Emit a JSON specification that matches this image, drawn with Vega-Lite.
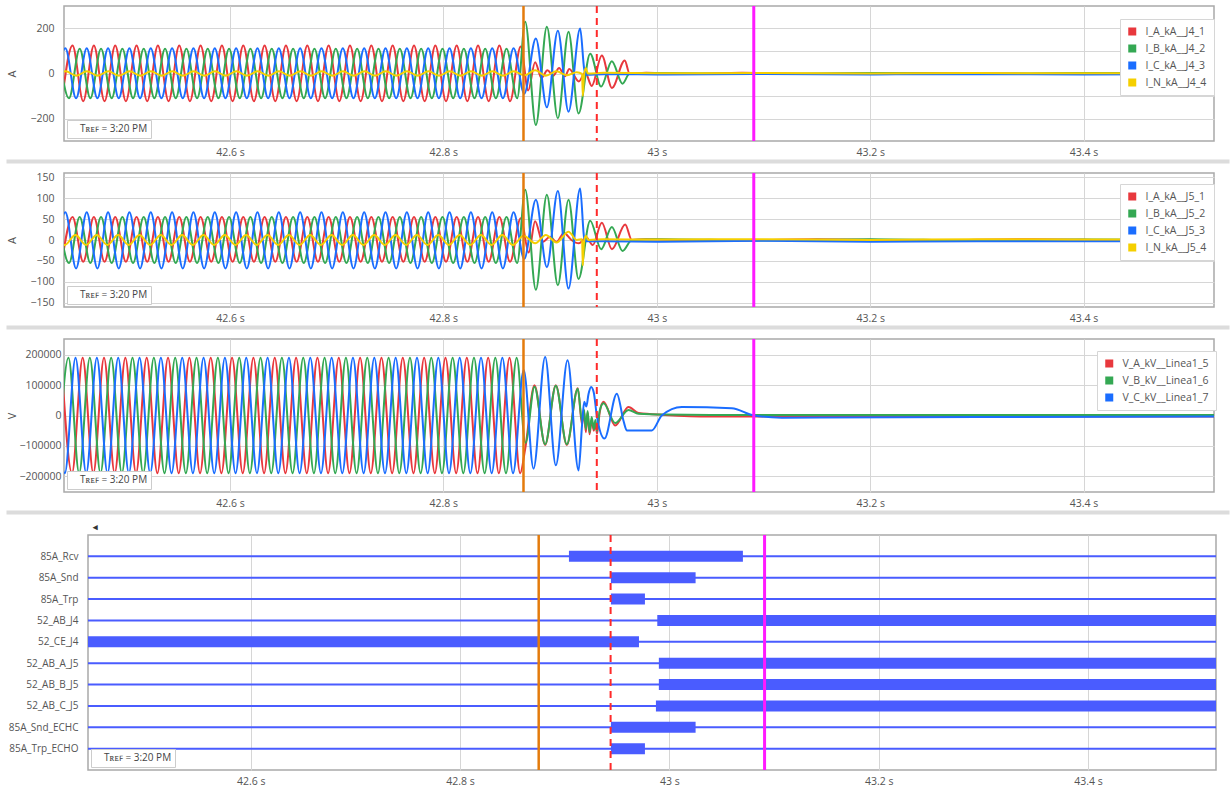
{
"$schema":"https://vega.github.io/schema/vega-lite/v6.json",
"background":"white",
"padding":{"left":5,"top":3,"right":5,"bottom":2},
"config":{
 "font":"Open Sans",
 "view":{"stroke":"#a9a9a9","strokeWidth":1.5},
 "axis":{"labelFont":"Open Sans","labelFontSize":10.5,"labelColor":"#555555","titleFont":"Open Sans","titleFontSize":11,"titleFontWeight":"normal","titleColor":"#555555","gridColor":"#d6d6d6","gridWidth":1,"domain":false,"ticks":false},
 "legend":{"labelFont":"Open Sans"},
 "concat":{"spacing":8}
},
"resolve":{"scale":{"color":"independent","shape":"independent"},"legend":{"color":"independent","shape":"independent"}},
"datasets":{
"cur":[{"c":"fault","t":42.8751},{"c":"trip","t":42.9438},{"c":"open","t":43.0909}],
"tref":[{"r":"Tʀᴇꜰ = 3:20 PM"}],
"dig":[
{"s":"85A_Rcv","a":42.9040,"b":43.0702},
{"s":"85A_Snd","a":42.9441,"b":43.0250},
{"s":"85A_Trp","a":42.9441,"b":42.9766},
{"s":"52_AB_J4","a":42.9884,"b":43.53},
{"s":"52_CE_J4","a":42.43,"b":42.9709},
{"s":"52_AB_A_J5","a":42.9899,"b":43.53},
{"s":"52_AB_B_J5","a":42.9899,"b":43.53},
{"s":"52_AB_C_J5","a":42.9871,"b":43.53},
{"s":"85A_Snd_ECHC","a":42.9441,"b":43.0250},
{"s":"85A_Trp_ECHO","a":42.9441,"b":42.9766}
],
"i4":[
{"s":"I_A_kA__J4_1","t":42.4425,"v":-123},{"s":"I_A_kA__J4_1","t":42.4525,"v":125},{"s":"I_A_kA__J4_1","t":42.4625,"v":-123},{"s":"I_A_kA__J4_1","t":42.4725,"v":125},{"s":"I_A_kA__J4_1","t":42.4825,"v":-123},{"s":"I_A_kA__J4_1","t":42.4925,"v":125},{"s":"I_A_kA__J4_1","t":42.5025,"v":-123},{"s":"I_A_kA__J4_1","t":42.5125,"v":125},{"s":"I_A_kA__J4_1","t":42.5225,"v":-123},{"s":"I_A_kA__J4_1","t":42.5325,"v":125},{"s":"I_A_kA__J4_1","t":42.5425,"v":-123},{"s":"I_A_kA__J4_1","t":42.5525,"v":125},{"s":"I_A_kA__J4_1","t":42.5625,"v":-123},{"s":"I_A_kA__J4_1","t":42.5725,"v":125},{"s":"I_A_kA__J4_1","t":42.5825,"v":-123},{"s":"I_A_kA__J4_1","t":42.5925,"v":125},{"s":"I_A_kA__J4_1","t":42.6025,"v":-123},{"s":"I_A_kA__J4_1","t":42.6125,"v":125},{"s":"I_A_kA__J4_1","t":42.6225,"v":-123},{"s":"I_A_kA__J4_1","t":42.6325,"v":125},{"s":"I_A_kA__J4_1","t":42.6425,"v":-123},{"s":"I_A_kA__J4_1","t":42.6525,"v":125},{"s":"I_A_kA__J4_1","t":42.6625,"v":-123},{"s":"I_A_kA__J4_1","t":42.6725,"v":125},{"s":"I_A_kA__J4_1","t":42.6825,"v":-123},{"s":"I_A_kA__J4_1","t":42.6925,"v":125},{"s":"I_A_kA__J4_1","t":42.7025,"v":-123},{"s":"I_A_kA__J4_1","t":42.7125,"v":125},{"s":"I_A_kA__J4_1","t":42.7225,"v":-123},{"s":"I_A_kA__J4_1","t":42.7325,"v":125},{"s":"I_A_kA__J4_1","t":42.7425,"v":-123},{"s":"I_A_kA__J4_1","t":42.7525,"v":125},{"s":"I_A_kA__J4_1","t":42.7625,"v":-123},{"s":"I_A_kA__J4_1","t":42.7725,"v":125},{"s":"I_A_kA__J4_1","t":42.7825,"v":-123},{"s":"I_A_kA__J4_1","t":42.7925,"v":125},{"s":"I_A_kA__J4_1","t":42.8025,"v":-123},{"s":"I_A_kA__J4_1","t":42.8125,"v":125},{"s":"I_A_kA__J4_1","t":42.8225,"v":-123},{"s":"I_A_kA__J4_1","t":42.8325,"v":125},{"s":"I_A_kA__J4_1","t":42.8425,"v":-123},{"s":"I_A_kA__J4_1","t":42.8525,"v":125},{"s":"I_A_kA__J4_1","t":42.8625,"v":-123},{"s":"I_A_kA__J4_1","t":42.8725,"v":120},
{"s":"I_A_kA__J4_1","t":42.8795,"v":-75},{"s":"I_A_kA__J4_1","t":42.8860,"v":50},{"s":"I_A_kA__J4_1","t":42.8920,"v":-20},{"s":"I_A_kA__J4_1","t":42.8975,"v":15},{"s":"I_A_kA__J4_1","t":42.9030,"v":-10},{"s":"I_A_kA__J4_1","t":42.9085,"v":25},{"s":"I_A_kA__J4_1","t":42.9140,"v":-12},{"s":"I_A_kA__J4_1","t":42.9180,"v":20},{"s":"I_A_kA__J4_1","t":42.9270,"v":-35},{"s":"I_A_kA__J4_1","t":42.9330,"v":5},{"s":"I_A_kA__J4_1","t":42.9390,"v":-55},{"s":"I_A_kA__J4_1","t":42.9485,"v":80},{"s":"I_A_kA__J4_1","t":42.9580,"v":-64},{"s":"I_A_kA__J4_1","t":42.9700,"v":58},{"s":"I_A_kA__J4_1","t":42.9745,"v":0},{"s":"I_A_kA__J4_1","t":42.9900,"v":3},{"s":"I_A_kA__J4_1","t":43.0300,"v":-2},{"s":"I_A_kA__J4_1","t":43.0800,"v":3},{"s":"I_A_kA__J4_1","t":43.1500,"v":-2},{"s":"I_A_kA__J4_1","t":43.2500,"v":2},{"s":"I_A_kA__J4_1","t":43.3500,"v":-2},{"s":"I_A_kA__J4_1","t":43.4500,"v":2},{"s":"I_A_kA__J4_1","t":43.5300,"v":0},
{"s":"I_B_kA__J4_2","t":42.4392,"v":110},{"s":"I_B_kA__J4_2","t":42.4492,"v":-110},{"s":"I_B_kA__J4_2","t":42.4592,"v":110},{"s":"I_B_kA__J4_2","t":42.4692,"v":-110},{"s":"I_B_kA__J4_2","t":42.4792,"v":110},{"s":"I_B_kA__J4_2","t":42.4892,"v":-110},{"s":"I_B_kA__J4_2","t":42.4992,"v":110},{"s":"I_B_kA__J4_2","t":42.5092,"v":-110},{"s":"I_B_kA__J4_2","t":42.5192,"v":110},{"s":"I_B_kA__J4_2","t":42.5292,"v":-110},{"s":"I_B_kA__J4_2","t":42.5392,"v":110},{"s":"I_B_kA__J4_2","t":42.5492,"v":-110},{"s":"I_B_kA__J4_2","t":42.5592,"v":110},{"s":"I_B_kA__J4_2","t":42.5692,"v":-110},{"s":"I_B_kA__J4_2","t":42.5792,"v":110},{"s":"I_B_kA__J4_2","t":42.5892,"v":-110},{"s":"I_B_kA__J4_2","t":42.5992,"v":110},{"s":"I_B_kA__J4_2","t":42.6092,"v":-110},{"s":"I_B_kA__J4_2","t":42.6192,"v":110},{"s":"I_B_kA__J4_2","t":42.6292,"v":-110},{"s":"I_B_kA__J4_2","t":42.6392,"v":110},{"s":"I_B_kA__J4_2","t":42.6492,"v":-110},{"s":"I_B_kA__J4_2","t":42.6592,"v":110},{"s":"I_B_kA__J4_2","t":42.6692,"v":-110},{"s":"I_B_kA__J4_2","t":42.6792,"v":110},{"s":"I_B_kA__J4_2","t":42.6892,"v":-110},{"s":"I_B_kA__J4_2","t":42.6992,"v":110},{"s":"I_B_kA__J4_2","t":42.7092,"v":-110},{"s":"I_B_kA__J4_2","t":42.7192,"v":110},{"s":"I_B_kA__J4_2","t":42.7292,"v":-110},{"s":"I_B_kA__J4_2","t":42.7392,"v":110},{"s":"I_B_kA__J4_2","t":42.7492,"v":-110},{"s":"I_B_kA__J4_2","t":42.7592,"v":110},{"s":"I_B_kA__J4_2","t":42.7692,"v":-110},{"s":"I_B_kA__J4_2","t":42.7792,"v":110},{"s":"I_B_kA__J4_2","t":42.7892,"v":-110},{"s":"I_B_kA__J4_2","t":42.7992,"v":110},{"s":"I_B_kA__J4_2","t":42.8092,"v":-110},{"s":"I_B_kA__J4_2","t":42.8192,"v":110},{"s":"I_B_kA__J4_2","t":42.8292,"v":-110},{"s":"I_B_kA__J4_2","t":42.8392,"v":110},{"s":"I_B_kA__J4_2","t":42.8492,"v":-110},{"s":"I_B_kA__J4_2","t":42.8592,"v":110},{"s":"I_B_kA__J4_2","t":42.8692,"v":-110},
{"s":"I_B_kA__J4_2","t":42.8767,"v":230},{"s":"I_B_kA__J4_2","t":42.8867,"v":-229},{"s":"I_B_kA__J4_2","t":42.8970,"v":208},{"s":"I_B_kA__J4_2","t":42.9073,"v":-199},{"s":"I_B_kA__J4_2","t":42.9173,"v":186},{"s":"I_B_kA__J4_2","t":42.9267,"v":-178},{"s":"I_B_kA__J4_2","t":42.9376,"v":88},{"s":"I_B_kA__J4_2","t":42.9479,"v":-58},{"s":"I_B_kA__J4_2","t":42.9579,"v":55},{"s":"I_B_kA__J4_2","t":42.9679,"v":-45},{"s":"I_B_kA__J4_2","t":42.9745,"v":0},{"s":"I_B_kA__J4_2","t":43.0000,"v":2},{"s":"I_B_kA__J4_2","t":43.1000,"v":-2},{"s":"I_B_kA__J4_2","t":43.2000,"v":2},{"s":"I_B_kA__J4_2","t":43.3000,"v":-1},{"s":"I_B_kA__J4_2","t":43.4000,"v":2},{"s":"I_B_kA__J4_2","t":43.5300,"v":0},
{"s":"I_C_kA__J4_3","t":42.4358,"v":-110},{"s":"I_C_kA__J4_3","t":42.4458,"v":112},{"s":"I_C_kA__J4_3","t":42.4558,"v":-110},{"s":"I_C_kA__J4_3","t":42.4658,"v":112},{"s":"I_C_kA__J4_3","t":42.4758,"v":-110},{"s":"I_C_kA__J4_3","t":42.4858,"v":112},{"s":"I_C_kA__J4_3","t":42.4958,"v":-110},{"s":"I_C_kA__J4_3","t":42.5058,"v":112},{"s":"I_C_kA__J4_3","t":42.5158,"v":-110},{"s":"I_C_kA__J4_3","t":42.5258,"v":112},{"s":"I_C_kA__J4_3","t":42.5358,"v":-110},{"s":"I_C_kA__J4_3","t":42.5458,"v":112},{"s":"I_C_kA__J4_3","t":42.5558,"v":-110},{"s":"I_C_kA__J4_3","t":42.5658,"v":112},{"s":"I_C_kA__J4_3","t":42.5758,"v":-110},{"s":"I_C_kA__J4_3","t":42.5858,"v":112},{"s":"I_C_kA__J4_3","t":42.5958,"v":-110},{"s":"I_C_kA__J4_3","t":42.6058,"v":112},{"s":"I_C_kA__J4_3","t":42.6158,"v":-110},{"s":"I_C_kA__J4_3","t":42.6258,"v":112},{"s":"I_C_kA__J4_3","t":42.6358,"v":-110},{"s":"I_C_kA__J4_3","t":42.6458,"v":112},{"s":"I_C_kA__J4_3","t":42.6558,"v":-110},{"s":"I_C_kA__J4_3","t":42.6658,"v":112},{"s":"I_C_kA__J4_3","t":42.6758,"v":-110},{"s":"I_C_kA__J4_3","t":42.6858,"v":112},{"s":"I_C_kA__J4_3","t":42.6958,"v":-110},{"s":"I_C_kA__J4_3","t":42.7058,"v":112},{"s":"I_C_kA__J4_3","t":42.7158,"v":-110},{"s":"I_C_kA__J4_3","t":42.7258,"v":112},{"s":"I_C_kA__J4_3","t":42.7358,"v":-110},{"s":"I_C_kA__J4_3","t":42.7458,"v":112},{"s":"I_C_kA__J4_3","t":42.7558,"v":-110},{"s":"I_C_kA__J4_3","t":42.7658,"v":112},{"s":"I_C_kA__J4_3","t":42.7758,"v":-110},{"s":"I_C_kA__J4_3","t":42.7858,"v":112},{"s":"I_C_kA__J4_3","t":42.7958,"v":-110},{"s":"I_C_kA__J4_3","t":42.8058,"v":112},{"s":"I_C_kA__J4_3","t":42.8158,"v":-110},{"s":"I_C_kA__J4_3","t":42.8258,"v":112},{"s":"I_C_kA__J4_3","t":42.8358,"v":-110},{"s":"I_C_kA__J4_3","t":42.8458,"v":112},{"s":"I_C_kA__J4_3","t":42.8558,"v":-110},{"s":"I_C_kA__J4_3","t":42.8658,"v":112},
{"s":"I_C_kA__J4_3","t":42.8758,"v":-90},{"s":"I_C_kA__J4_3","t":42.8867,"v":156},{"s":"I_C_kA__J4_3","t":42.8970,"v":-150},{"s":"I_C_kA__J4_3","t":42.9073,"v":190},{"s":"I_C_kA__J4_3","t":42.9173,"v":-170},{"s":"I_C_kA__J4_3","t":42.9282,"v":200},{"s":"I_C_kA__J4_3","t":42.9320,"v":20},{"s":"I_C_kA__J4_3","t":42.9340,"v":-5},{"s":"I_C_kA__J4_3","t":42.9500,"v":-3},{"s":"I_C_kA__J4_3","t":43.0000,"v":-4},{"s":"I_C_kA__J4_3","t":43.1000,"v":-2},{"s":"I_C_kA__J4_3","t":43.2000,"v":-4},{"s":"I_C_kA__J4_3","t":43.3000,"v":-3},{"s":"I_C_kA__J4_3","t":43.4000,"v":-4},{"s":"I_C_kA__J4_3","t":43.5300,"v":-3},
{"s":"I_N_kA__J4_4","t":42.4360,"v":-10},{"s":"I_N_kA__J4_4","t":42.4460,"v":10},{"s":"I_N_kA__J4_4","t":42.4560,"v":-10},{"s":"I_N_kA__J4_4","t":42.4660,"v":10},{"s":"I_N_kA__J4_4","t":42.4760,"v":-10},{"s":"I_N_kA__J4_4","t":42.4860,"v":10},{"s":"I_N_kA__J4_4","t":42.4960,"v":-10},{"s":"I_N_kA__J4_4","t":42.5060,"v":10},{"s":"I_N_kA__J4_4","t":42.5160,"v":-10},{"s":"I_N_kA__J4_4","t":42.5260,"v":10},{"s":"I_N_kA__J4_4","t":42.5360,"v":-10},{"s":"I_N_kA__J4_4","t":42.5460,"v":10},{"s":"I_N_kA__J4_4","t":42.5560,"v":-10},{"s":"I_N_kA__J4_4","t":42.5660,"v":10},{"s":"I_N_kA__J4_4","t":42.5760,"v":-10},{"s":"I_N_kA__J4_4","t":42.5860,"v":10},{"s":"I_N_kA__J4_4","t":42.5960,"v":-10},{"s":"I_N_kA__J4_4","t":42.6060,"v":10},{"s":"I_N_kA__J4_4","t":42.6160,"v":-10},{"s":"I_N_kA__J4_4","t":42.6260,"v":10},{"s":"I_N_kA__J4_4","t":42.6360,"v":-10},{"s":"I_N_kA__J4_4","t":42.6460,"v":10},{"s":"I_N_kA__J4_4","t":42.6560,"v":-10},{"s":"I_N_kA__J4_4","t":42.6660,"v":10},{"s":"I_N_kA__J4_4","t":42.6760,"v":-10},{"s":"I_N_kA__J4_4","t":42.6860,"v":10},{"s":"I_N_kA__J4_4","t":42.6960,"v":-10},{"s":"I_N_kA__J4_4","t":42.7060,"v":10},{"s":"I_N_kA__J4_4","t":42.7160,"v":-10},{"s":"I_N_kA__J4_4","t":42.7260,"v":10},{"s":"I_N_kA__J4_4","t":42.7360,"v":-10},{"s":"I_N_kA__J4_4","t":42.7460,"v":10},{"s":"I_N_kA__J4_4","t":42.7560,"v":-10},{"s":"I_N_kA__J4_4","t":42.7660,"v":10},{"s":"I_N_kA__J4_4","t":42.7760,"v":-10},{"s":"I_N_kA__J4_4","t":42.7860,"v":10},{"s":"I_N_kA__J4_4","t":42.7960,"v":-10},{"s":"I_N_kA__J4_4","t":42.8060,"v":10},{"s":"I_N_kA__J4_4","t":42.8160,"v":-10},{"s":"I_N_kA__J4_4","t":42.8260,"v":10},{"s":"I_N_kA__J4_4","t":42.8360,"v":-10},{"s":"I_N_kA__J4_4","t":42.8460,"v":10},{"s":"I_N_kA__J4_4","t":42.8560,"v":-10},{"s":"I_N_kA__J4_4","t":42.8660,"v":10},
{"s":"I_N_kA__J4_4","t":42.8760,"v":-8},{"s":"I_N_kA__J4_4","t":42.8860,"v":14},{"s":"I_N_kA__J4_4","t":42.8960,"v":-10},{"s":"I_N_kA__J4_4","t":42.9060,"v":10},{"s":"I_N_kA__J4_4","t":42.9160,"v":-8},{"s":"I_N_kA__J4_4","t":42.9250,"v":6},{"s":"I_N_kA__J4_4","t":42.9300,"v":-2},{"s":"I_N_kA__J4_4","t":42.9307,"v":-100},{"s":"I_N_kA__J4_4","t":42.9318,"v":-10},{"s":"I_N_kA__J4_4","t":42.9335,"v":25},{"s":"I_N_kA__J4_4","t":42.9355,"v":0},{"s":"I_N_kA__J4_4","t":42.9500,"v":3},{"s":"I_N_kA__J4_4","t":43.0000,"v":1},{"s":"I_N_kA__J4_4","t":43.1000,"v":2},{"s":"I_N_kA__J4_4","t":43.2000,"v":0},{"s":"I_N_kA__J4_4","t":43.3000,"v":2},{"s":"I_N_kA__J4_4","t":43.4000,"v":1},{"s":"I_N_kA__J4_4","t":43.5300,"v":1}
],
"i5":[
{"s":"I_A_kA__J5_1","t":42.4425,"v":-52},{"s":"I_A_kA__J5_1","t":42.4525,"v":55},{"s":"I_A_kA__J5_1","t":42.4625,"v":-52},{"s":"I_A_kA__J5_1","t":42.4725,"v":55},{"s":"I_A_kA__J5_1","t":42.4825,"v":-52},{"s":"I_A_kA__J5_1","t":42.4925,"v":55},{"s":"I_A_kA__J5_1","t":42.5025,"v":-52},{"s":"I_A_kA__J5_1","t":42.5125,"v":55},{"s":"I_A_kA__J5_1","t":42.5225,"v":-52},{"s":"I_A_kA__J5_1","t":42.5325,"v":55},{"s":"I_A_kA__J5_1","t":42.5425,"v":-52},{"s":"I_A_kA__J5_1","t":42.5525,"v":55},{"s":"I_A_kA__J5_1","t":42.5625,"v":-52},{"s":"I_A_kA__J5_1","t":42.5725,"v":55},{"s":"I_A_kA__J5_1","t":42.5825,"v":-52},{"s":"I_A_kA__J5_1","t":42.5925,"v":55},{"s":"I_A_kA__J5_1","t":42.6025,"v":-52},{"s":"I_A_kA__J5_1","t":42.6125,"v":55},{"s":"I_A_kA__J5_1","t":42.6225,"v":-52},{"s":"I_A_kA__J5_1","t":42.6325,"v":55},{"s":"I_A_kA__J5_1","t":42.6425,"v":-52},{"s":"I_A_kA__J5_1","t":42.6525,"v":55},{"s":"I_A_kA__J5_1","t":42.6625,"v":-52},{"s":"I_A_kA__J5_1","t":42.6725,"v":55},{"s":"I_A_kA__J5_1","t":42.6825,"v":-52},{"s":"I_A_kA__J5_1","t":42.6925,"v":55},{"s":"I_A_kA__J5_1","t":42.7025,"v":-52},{"s":"I_A_kA__J5_1","t":42.7125,"v":55},{"s":"I_A_kA__J5_1","t":42.7225,"v":-52},{"s":"I_A_kA__J5_1","t":42.7325,"v":55},{"s":"I_A_kA__J5_1","t":42.7425,"v":-52},{"s":"I_A_kA__J5_1","t":42.7525,"v":55},{"s":"I_A_kA__J5_1","t":42.7625,"v":-52},{"s":"I_A_kA__J5_1","t":42.7725,"v":55},{"s":"I_A_kA__J5_1","t":42.7825,"v":-52},{"s":"I_A_kA__J5_1","t":42.7925,"v":55},{"s":"I_A_kA__J5_1","t":42.8025,"v":-52},{"s":"I_A_kA__J5_1","t":42.8125,"v":55},{"s":"I_A_kA__J5_1","t":42.8225,"v":-52},{"s":"I_A_kA__J5_1","t":42.8325,"v":55},{"s":"I_A_kA__J5_1","t":42.8425,"v":-52},{"s":"I_A_kA__J5_1","t":42.8525,"v":55},{"s":"I_A_kA__J5_1","t":42.8625,"v":-52},{"s":"I_A_kA__J5_1","t":42.8725,"v":52},
{"s":"I_A_kA__J5_1","t":42.8800,"v":-30},{"s":"I_A_kA__J5_1","t":42.8860,"v":45},{"s":"I_A_kA__J5_1","t":42.8930,"v":-5},{"s":"I_A_kA__J5_1","t":42.9000,"v":8},{"s":"I_A_kA__J5_1","t":42.9060,"v":-5},{"s":"I_A_kA__J5_1","t":42.9130,"v":17},{"s":"I_A_kA__J5_1","t":42.9200,"v":0},{"s":"I_A_kA__J5_1","t":42.9270,"v":-8},{"s":"I_A_kA__J5_1","t":42.9340,"v":6},{"s":"I_A_kA__J5_1","t":42.9400,"v":-12},{"s":"I_A_kA__J5_1","t":42.9485,"v":41},{"s":"I_A_kA__J5_1","t":42.9580,"v":-22},{"s":"I_A_kA__J5_1","t":42.9704,"v":37},{"s":"I_A_kA__J5_1","t":42.9766,"v":0},{"s":"I_A_kA__J5_1","t":42.9900,"v":2},{"s":"I_A_kA__J5_1","t":43.0500,"v":-2},{"s":"I_A_kA__J5_1","t":43.1500,"v":2},{"s":"I_A_kA__J5_1","t":43.2500,"v":-1},{"s":"I_A_kA__J5_1","t":43.3500,"v":2},{"s":"I_A_kA__J5_1","t":43.4500,"v":-1},{"s":"I_A_kA__J5_1","t":43.5300,"v":1},
{"s":"I_B_kA__J5_2","t":42.4392,"v":55},{"s":"I_B_kA__J5_2","t":42.4492,"v":-55},{"s":"I_B_kA__J5_2","t":42.4592,"v":55},{"s":"I_B_kA__J5_2","t":42.4692,"v":-55},{"s":"I_B_kA__J5_2","t":42.4792,"v":55},{"s":"I_B_kA__J5_2","t":42.4892,"v":-55},{"s":"I_B_kA__J5_2","t":42.4992,"v":55},{"s":"I_B_kA__J5_2","t":42.5092,"v":-55},{"s":"I_B_kA__J5_2","t":42.5192,"v":55},{"s":"I_B_kA__J5_2","t":42.5292,"v":-55},{"s":"I_B_kA__J5_2","t":42.5392,"v":55},{"s":"I_B_kA__J5_2","t":42.5492,"v":-55},{"s":"I_B_kA__J5_2","t":42.5592,"v":55},{"s":"I_B_kA__J5_2","t":42.5692,"v":-55},{"s":"I_B_kA__J5_2","t":42.5792,"v":55},{"s":"I_B_kA__J5_2","t":42.5892,"v":-55},{"s":"I_B_kA__J5_2","t":42.5992,"v":55},{"s":"I_B_kA__J5_2","t":42.6092,"v":-55},{"s":"I_B_kA__J5_2","t":42.6192,"v":55},{"s":"I_B_kA__J5_2","t":42.6292,"v":-55},{"s":"I_B_kA__J5_2","t":42.6392,"v":55},{"s":"I_B_kA__J5_2","t":42.6492,"v":-55},{"s":"I_B_kA__J5_2","t":42.6592,"v":55},{"s":"I_B_kA__J5_2","t":42.6692,"v":-55},{"s":"I_B_kA__J5_2","t":42.6792,"v":55},{"s":"I_B_kA__J5_2","t":42.6892,"v":-55},{"s":"I_B_kA__J5_2","t":42.6992,"v":55},{"s":"I_B_kA__J5_2","t":42.7092,"v":-55},{"s":"I_B_kA__J5_2","t":42.7192,"v":55},{"s":"I_B_kA__J5_2","t":42.7292,"v":-55},{"s":"I_B_kA__J5_2","t":42.7392,"v":55},{"s":"I_B_kA__J5_2","t":42.7492,"v":-55},{"s":"I_B_kA__J5_2","t":42.7592,"v":55},{"s":"I_B_kA__J5_2","t":42.7692,"v":-55},{"s":"I_B_kA__J5_2","t":42.7792,"v":55},{"s":"I_B_kA__J5_2","t":42.7892,"v":-55},{"s":"I_B_kA__J5_2","t":42.7992,"v":55},{"s":"I_B_kA__J5_2","t":42.8092,"v":-55},{"s":"I_B_kA__J5_2","t":42.8192,"v":55},{"s":"I_B_kA__J5_2","t":42.8292,"v":-55},{"s":"I_B_kA__J5_2","t":42.8392,"v":55},{"s":"I_B_kA__J5_2","t":42.8492,"v":-55},{"s":"I_B_kA__J5_2","t":42.8592,"v":55},{"s":"I_B_kA__J5_2","t":42.8692,"v":-55},
{"s":"I_B_kA__J5_2","t":42.8767,"v":120},{"s":"I_B_kA__J5_2","t":42.8867,"v":-119},{"s":"I_B_kA__J5_2","t":42.8970,"v":108},{"s":"I_B_kA__J5_2","t":42.9073,"v":-108},{"s":"I_B_kA__J5_2","t":42.9173,"v":96},{"s":"I_B_kA__J5_2","t":42.9267,"v":-93},{"s":"I_B_kA__J5_2","t":42.9376,"v":46},{"s":"I_B_kA__J5_2","t":42.9479,"v":-22},{"s":"I_B_kA__J5_2","t":42.9579,"v":31},{"s":"I_B_kA__J5_2","t":42.9679,"v":-26},{"s":"I_B_kA__J5_2","t":42.9766,"v":0},{"s":"I_B_kA__J5_2","t":43.0000,"v":2},{"s":"I_B_kA__J5_2","t":43.1000,"v":-1},{"s":"I_B_kA__J5_2","t":43.2000,"v":2},{"s":"I_B_kA__J5_2","t":43.3000,"v":-1},{"s":"I_B_kA__J5_2","t":43.4000,"v":1},{"s":"I_B_kA__J5_2","t":43.5300,"v":0},
{"s":"I_C_kA__J5_3","t":42.4358,"v":-68},{"s":"I_C_kA__J5_3","t":42.4458,"v":66},{"s":"I_C_kA__J5_3","t":42.4558,"v":-68},{"s":"I_C_kA__J5_3","t":42.4658,"v":66},{"s":"I_C_kA__J5_3","t":42.4758,"v":-68},{"s":"I_C_kA__J5_3","t":42.4858,"v":66},{"s":"I_C_kA__J5_3","t":42.4958,"v":-68},{"s":"I_C_kA__J5_3","t":42.5058,"v":66},{"s":"I_C_kA__J5_3","t":42.5158,"v":-68},{"s":"I_C_kA__J5_3","t":42.5258,"v":66},{"s":"I_C_kA__J5_3","t":42.5358,"v":-68},{"s":"I_C_kA__J5_3","t":42.5458,"v":66},{"s":"I_C_kA__J5_3","t":42.5558,"v":-68},{"s":"I_C_kA__J5_3","t":42.5658,"v":66},{"s":"I_C_kA__J5_3","t":42.5758,"v":-68},{"s":"I_C_kA__J5_3","t":42.5858,"v":66},{"s":"I_C_kA__J5_3","t":42.5958,"v":-68},{"s":"I_C_kA__J5_3","t":42.6058,"v":66},{"s":"I_C_kA__J5_3","t":42.6158,"v":-68},{"s":"I_C_kA__J5_3","t":42.6258,"v":66},{"s":"I_C_kA__J5_3","t":42.6358,"v":-68},{"s":"I_C_kA__J5_3","t":42.6458,"v":66},{"s":"I_C_kA__J5_3","t":42.6558,"v":-68},{"s":"I_C_kA__J5_3","t":42.6658,"v":66},{"s":"I_C_kA__J5_3","t":42.6758,"v":-68},{"s":"I_C_kA__J5_3","t":42.6858,"v":66},{"s":"I_C_kA__J5_3","t":42.6958,"v":-68},{"s":"I_C_kA__J5_3","t":42.7058,"v":66},{"s":"I_C_kA__J5_3","t":42.7158,"v":-68},{"s":"I_C_kA__J5_3","t":42.7258,"v":66},{"s":"I_C_kA__J5_3","t":42.7358,"v":-68},{"s":"I_C_kA__J5_3","t":42.7458,"v":66},{"s":"I_C_kA__J5_3","t":42.7558,"v":-68},{"s":"I_C_kA__J5_3","t":42.7658,"v":66},{"s":"I_C_kA__J5_3","t":42.7758,"v":-68},{"s":"I_C_kA__J5_3","t":42.7858,"v":66},{"s":"I_C_kA__J5_3","t":42.7958,"v":-68},{"s":"I_C_kA__J5_3","t":42.8058,"v":66},{"s":"I_C_kA__J5_3","t":42.8158,"v":-68},{"s":"I_C_kA__J5_3","t":42.8258,"v":66},{"s":"I_C_kA__J5_3","t":42.8358,"v":-68},{"s":"I_C_kA__J5_3","t":42.8458,"v":66},{"s":"I_C_kA__J5_3","t":42.8558,"v":-68},{"s":"I_C_kA__J5_3","t":42.8658,"v":66},
{"s":"I_C_kA__J5_3","t":42.8758,"v":-45},{"s":"I_C_kA__J5_3","t":42.8867,"v":96},{"s":"I_C_kA__J5_3","t":42.8970,"v":-65},{"s":"I_C_kA__J5_3","t":42.9073,"v":117},{"s":"I_C_kA__J5_3","t":42.9173,"v":-116},{"s":"I_C_kA__J5_3","t":42.9282,"v":123},{"s":"I_C_kA__J5_3","t":42.9320,"v":5},{"s":"I_C_kA__J5_3","t":42.9340,"v":-3},{"s":"I_C_kA__J5_3","t":42.9500,"v":-3},{"s":"I_C_kA__J5_3","t":43.0000,"v":-4},{"s":"I_C_kA__J5_3","t":43.1000,"v":-2},{"s":"I_C_kA__J5_3","t":43.2000,"v":-4},{"s":"I_C_kA__J5_3","t":43.3000,"v":-3},{"s":"I_C_kA__J5_3","t":43.4000,"v":-3},{"s":"I_C_kA__J5_3","t":43.5300,"v":-3},
{"s":"I_N_kA__J5_4","t":42.4352,"v":12},{"s":"I_N_kA__J5_4","t":42.4452,"v":-12},{"s":"I_N_kA__J5_4","t":42.4552,"v":12},{"s":"I_N_kA__J5_4","t":42.4652,"v":-12},{"s":"I_N_kA__J5_4","t":42.4752,"v":12},{"s":"I_N_kA__J5_4","t":42.4852,"v":-12},{"s":"I_N_kA__J5_4","t":42.4952,"v":12},{"s":"I_N_kA__J5_4","t":42.5052,"v":-12},{"s":"I_N_kA__J5_4","t":42.5152,"v":12},{"s":"I_N_kA__J5_4","t":42.5252,"v":-12},{"s":"I_N_kA__J5_4","t":42.5352,"v":12},{"s":"I_N_kA__J5_4","t":42.5452,"v":-12},{"s":"I_N_kA__J5_4","t":42.5552,"v":12},{"s":"I_N_kA__J5_4","t":42.5652,"v":-12},{"s":"I_N_kA__J5_4","t":42.5752,"v":12},{"s":"I_N_kA__J5_4","t":42.5852,"v":-12},{"s":"I_N_kA__J5_4","t":42.5952,"v":12},{"s":"I_N_kA__J5_4","t":42.6052,"v":-12},{"s":"I_N_kA__J5_4","t":42.6152,"v":12},{"s":"I_N_kA__J5_4","t":42.6252,"v":-12},{"s":"I_N_kA__J5_4","t":42.6352,"v":12},{"s":"I_N_kA__J5_4","t":42.6452,"v":-12},{"s":"I_N_kA__J5_4","t":42.6552,"v":12},{"s":"I_N_kA__J5_4","t":42.6652,"v":-12},{"s":"I_N_kA__J5_4","t":42.6752,"v":12},{"s":"I_N_kA__J5_4","t":42.6852,"v":-12},{"s":"I_N_kA__J5_4","t":42.6952,"v":12},{"s":"I_N_kA__J5_4","t":42.7052,"v":-12},{"s":"I_N_kA__J5_4","t":42.7152,"v":12},{"s":"I_N_kA__J5_4","t":42.7252,"v":-12},{"s":"I_N_kA__J5_4","t":42.7352,"v":12},{"s":"I_N_kA__J5_4","t":42.7452,"v":-12},{"s":"I_N_kA__J5_4","t":42.7552,"v":12},{"s":"I_N_kA__J5_4","t":42.7652,"v":-12},{"s":"I_N_kA__J5_4","t":42.7752,"v":12},{"s":"I_N_kA__J5_4","t":42.7852,"v":-12},{"s":"I_N_kA__J5_4","t":42.7952,"v":12},{"s":"I_N_kA__J5_4","t":42.8052,"v":-12},{"s":"I_N_kA__J5_4","t":42.8152,"v":12},{"s":"I_N_kA__J5_4","t":42.8252,"v":-12},{"s":"I_N_kA__J5_4","t":42.8352,"v":12},{"s":"I_N_kA__J5_4","t":42.8452,"v":-12},{"s":"I_N_kA__J5_4","t":42.8552,"v":12},{"s":"I_N_kA__J5_4","t":42.8652,"v":-12},
{"s":"I_N_kA__J5_4","t":42.8752,"v":10},{"s":"I_N_kA__J5_4","t":42.8860,"v":-8},{"s":"I_N_kA__J5_4","t":42.8960,"v":12},{"s":"I_N_kA__J5_4","t":42.9060,"v":-6},{"s":"I_N_kA__J5_4","t":42.9173,"v":20},{"s":"I_N_kA__J5_4","t":42.9250,"v":0},{"s":"I_N_kA__J5_4","t":42.9300,"v":2},{"s":"I_N_kA__J5_4","t":42.9307,"v":-61},{"s":"I_N_kA__J5_4","t":42.9318,"v":-5},{"s":"I_N_kA__J5_4","t":42.9335,"v":10},{"s":"I_N_kA__J5_4","t":42.9360,"v":0},{"s":"I_N_kA__J5_4","t":42.9500,"v":2},{"s":"I_N_kA__J5_4","t":43.0000,"v":1},{"s":"I_N_kA__J5_4","t":43.1000,"v":2},{"s":"I_N_kA__J5_4","t":43.2000,"v":0},{"s":"I_N_kA__J5_4","t":43.3000,"v":2},{"s":"I_N_kA__J5_4","t":43.4000,"v":1},{"s":"I_N_kA__J5_4","t":43.5300,"v":1}
],
"v":[
{"s":"V_A_kV__Linea1_5","t":42.4420,"v":190000},{"s":"V_A_kV__Linea1_5","t":42.4520,"v":-190000},{"s":"V_A_kV__Linea1_5","t":42.4620,"v":190000},{"s":"V_A_kV__Linea1_5","t":42.4720,"v":-190000},{"s":"V_A_kV__Linea1_5","t":42.4820,"v":190000},{"s":"V_A_kV__Linea1_5","t":42.4920,"v":-190000},{"s":"V_A_kV__Linea1_5","t":42.5020,"v":190000},{"s":"V_A_kV__Linea1_5","t":42.5120,"v":-190000},{"s":"V_A_kV__Linea1_5","t":42.5220,"v":190000},{"s":"V_A_kV__Linea1_5","t":42.5320,"v":-190000},{"s":"V_A_kV__Linea1_5","t":42.5420,"v":190000},{"s":"V_A_kV__Linea1_5","t":42.5520,"v":-190000},{"s":"V_A_kV__Linea1_5","t":42.5620,"v":190000},{"s":"V_A_kV__Linea1_5","t":42.5720,"v":-190000},{"s":"V_A_kV__Linea1_5","t":42.5820,"v":190000},{"s":"V_A_kV__Linea1_5","t":42.5920,"v":-190000},{"s":"V_A_kV__Linea1_5","t":42.6020,"v":190000},{"s":"V_A_kV__Linea1_5","t":42.6120,"v":-190000},{"s":"V_A_kV__Linea1_5","t":42.6220,"v":190000},{"s":"V_A_kV__Linea1_5","t":42.6320,"v":-190000},{"s":"V_A_kV__Linea1_5","t":42.6420,"v":190000},{"s":"V_A_kV__Linea1_5","t":42.6520,"v":-190000},{"s":"V_A_kV__Linea1_5","t":42.6620,"v":190000},{"s":"V_A_kV__Linea1_5","t":42.6720,"v":-190000},{"s":"V_A_kV__Linea1_5","t":42.6820,"v":190000},{"s":"V_A_kV__Linea1_5","t":42.6920,"v":-190000},{"s":"V_A_kV__Linea1_5","t":42.7020,"v":190000},{"s":"V_A_kV__Linea1_5","t":42.7120,"v":-190000},{"s":"V_A_kV__Linea1_5","t":42.7220,"v":190000},{"s":"V_A_kV__Linea1_5","t":42.7320,"v":-190000},{"s":"V_A_kV__Linea1_5","t":42.7420,"v":190000},{"s":"V_A_kV__Linea1_5","t":42.7520,"v":-190000},{"s":"V_A_kV__Linea1_5","t":42.7620,"v":190000},{"s":"V_A_kV__Linea1_5","t":42.7720,"v":-190000},{"s":"V_A_kV__Linea1_5","t":42.7820,"v":190000},{"s":"V_A_kV__Linea1_5","t":42.7920,"v":-190000},{"s":"V_A_kV__Linea1_5","t":42.8020,"v":190000},{"s":"V_A_kV__Linea1_5","t":42.8120,"v":-190000},{"s":"V_A_kV__Linea1_5","t":42.8220,"v":190000},{"s":"V_A_kV__Linea1_5","t":42.8320,"v":-190000},{"s":"V_A_kV__Linea1_5","t":42.8420,"v":190000},{"s":"V_A_kV__Linea1_5","t":42.8520,"v":-190000},{"s":"V_A_kV__Linea1_5","t":42.8620,"v":190000},{"s":"V_A_kV__Linea1_5","t":42.8720,"v":-190000},
{"s":"V_A_kV__Linea1_5","t":42.8767,"v":-110000},{"s":"V_A_kV__Linea1_5","t":42.8854,"v":100000},{"s":"V_A_kV__Linea1_5","t":42.8954,"v":-97000},{"s":"V_A_kV__Linea1_5","t":42.9054,"v":100000},{"s":"V_A_kV__Linea1_5","t":42.9157,"v":-97000},{"s":"V_A_kV__Linea1_5","t":42.9260,"v":90000},{"s":"V_A_kV__Linea1_5","t":42.9300,"v":-30000},{"s":"V_A_kV__Linea1_5","t":42.9318,"v":15000},{"s":"V_A_kV__Linea1_5","t":42.9335,"v":-55000},{"s":"V_A_kV__Linea1_5","t":42.9352,"v":10000},{"s":"V_A_kV__Linea1_5","t":42.9370,"v":-62000},{"s":"V_A_kV__Linea1_5","t":42.9390,"v":-15000},{"s":"V_A_kV__Linea1_5","t":42.9410,"v":-50000},{"s":"V_A_kV__Linea1_5","t":42.9425,"v":-25000},{"s":"V_A_kV__Linea1_5","t":42.9440,"v":-60000},{"s":"V_A_kV__Linea1_5","t":42.9465,"v":10000},{"s":"V_A_kV__Linea1_5","t":42.9501,"v":45000},{"s":"V_A_kV__Linea1_5","t":42.9610,"v":-33000},{"s":"V_A_kV__Linea1_5","t":42.9735,"v":28000},{"s":"V_A_kV__Linea1_5","t":42.9829,"v":8000},{"s":"V_A_kV__Linea1_5","t":43.0078,"v":2000},{"s":"V_A_kV__Linea1_5","t":43.0500,"v":-3000},{"s":"V_A_kV__Linea1_5","t":43.5300,"v":-3000},
{"s":"V_B_kV__Linea1_6","t":42.4387,"v":-190000},{"s":"V_B_kV__Linea1_6","t":42.4487,"v":190000},{"s":"V_B_kV__Linea1_6","t":42.4587,"v":-190000},{"s":"V_B_kV__Linea1_6","t":42.4687,"v":190000},{"s":"V_B_kV__Linea1_6","t":42.4787,"v":-190000},{"s":"V_B_kV__Linea1_6","t":42.4887,"v":190000},{"s":"V_B_kV__Linea1_6","t":42.4987,"v":-190000},{"s":"V_B_kV__Linea1_6","t":42.5087,"v":190000},{"s":"V_B_kV__Linea1_6","t":42.5187,"v":-190000},{"s":"V_B_kV__Linea1_6","t":42.5287,"v":190000},{"s":"V_B_kV__Linea1_6","t":42.5387,"v":-190000},{"s":"V_B_kV__Linea1_6","t":42.5487,"v":190000},{"s":"V_B_kV__Linea1_6","t":42.5587,"v":-190000},{"s":"V_B_kV__Linea1_6","t":42.5687,"v":190000},{"s":"V_B_kV__Linea1_6","t":42.5787,"v":-190000},{"s":"V_B_kV__Linea1_6","t":42.5887,"v":190000},{"s":"V_B_kV__Linea1_6","t":42.5987,"v":-190000},{"s":"V_B_kV__Linea1_6","t":42.6087,"v":190000},{"s":"V_B_kV__Linea1_6","t":42.6187,"v":-190000},{"s":"V_B_kV__Linea1_6","t":42.6287,"v":190000},{"s":"V_B_kV__Linea1_6","t":42.6387,"v":-190000},{"s":"V_B_kV__Linea1_6","t":42.6487,"v":190000},{"s":"V_B_kV__Linea1_6","t":42.6587,"v":-190000},{"s":"V_B_kV__Linea1_6","t":42.6687,"v":190000},{"s":"V_B_kV__Linea1_6","t":42.6787,"v":-190000},{"s":"V_B_kV__Linea1_6","t":42.6887,"v":190000},{"s":"V_B_kV__Linea1_6","t":42.6987,"v":-190000},{"s":"V_B_kV__Linea1_6","t":42.7087,"v":190000},{"s":"V_B_kV__Linea1_6","t":42.7187,"v":-190000},{"s":"V_B_kV__Linea1_6","t":42.7287,"v":190000},{"s":"V_B_kV__Linea1_6","t":42.7387,"v":-190000},{"s":"V_B_kV__Linea1_6","t":42.7487,"v":190000},{"s":"V_B_kV__Linea1_6","t":42.7587,"v":-190000},{"s":"V_B_kV__Linea1_6","t":42.7687,"v":190000},{"s":"V_B_kV__Linea1_6","t":42.7787,"v":-190000},{"s":"V_B_kV__Linea1_6","t":42.7887,"v":190000},{"s":"V_B_kV__Linea1_6","t":42.7987,"v":-190000},{"s":"V_B_kV__Linea1_6","t":42.8087,"v":190000},{"s":"V_B_kV__Linea1_6","t":42.8187,"v":-190000},{"s":"V_B_kV__Linea1_6","t":42.8287,"v":190000},{"s":"V_B_kV__Linea1_6","t":42.8387,"v":-190000},{"s":"V_B_kV__Linea1_6","t":42.8487,"v":190000},{"s":"V_B_kV__Linea1_6","t":42.8587,"v":-190000},{"s":"V_B_kV__Linea1_6","t":42.8687,"v":190000},
{"s":"V_B_kV__Linea1_6","t":42.8770,"v":-90000},{"s":"V_B_kV__Linea1_6","t":42.8854,"v":95000},{"s":"V_B_kV__Linea1_6","t":42.8954,"v":-95000},{"s":"V_B_kV__Linea1_6","t":42.9054,"v":98000},{"s":"V_B_kV__Linea1_6","t":42.9157,"v":-95000},{"s":"V_B_kV__Linea1_6","t":42.9260,"v":88000},{"s":"V_B_kV__Linea1_6","t":42.9300,"v":-20000},{"s":"V_B_kV__Linea1_6","t":42.9318,"v":20000},{"s":"V_B_kV__Linea1_6","t":42.9335,"v":-45000},{"s":"V_B_kV__Linea1_6","t":42.9352,"v":15000},{"s":"V_B_kV__Linea1_6","t":42.9370,"v":-55000},{"s":"V_B_kV__Linea1_6","t":42.9390,"v":-5000},{"s":"V_B_kV__Linea1_6","t":42.9410,"v":-45000},{"s":"V_B_kV__Linea1_6","t":42.9425,"v":-15000},{"s":"V_B_kV__Linea1_6","t":42.9440,"v":-50000},{"s":"V_B_kV__Linea1_6","t":42.9465,"v":15000},{"s":"V_B_kV__Linea1_6","t":42.9501,"v":40000},{"s":"V_B_kV__Linea1_6","t":42.9610,"v":-25000},{"s":"V_B_kV__Linea1_6","t":42.9735,"v":18000},{"s":"V_B_kV__Linea1_6","t":42.9829,"v":6000},{"s":"V_B_kV__Linea1_6","t":43.0078,"v":3000},{"s":"V_B_kV__Linea1_6","t":43.0500,"v":2000},{"s":"V_B_kV__Linea1_6","t":43.5300,"v":2000},
{"s":"V_C_kV__Linea1_7","t":42.4353,"v":190000},{"s":"V_C_kV__Linea1_7","t":42.4453,"v":-190000},{"s":"V_C_kV__Linea1_7","t":42.4553,"v":190000},{"s":"V_C_kV__Linea1_7","t":42.4653,"v":-190000},{"s":"V_C_kV__Linea1_7","t":42.4753,"v":190000},{"s":"V_C_kV__Linea1_7","t":42.4853,"v":-190000},{"s":"V_C_kV__Linea1_7","t":42.4953,"v":190000},{"s":"V_C_kV__Linea1_7","t":42.5053,"v":-190000},{"s":"V_C_kV__Linea1_7","t":42.5153,"v":190000},{"s":"V_C_kV__Linea1_7","t":42.5253,"v":-190000},{"s":"V_C_kV__Linea1_7","t":42.5353,"v":190000},{"s":"V_C_kV__Linea1_7","t":42.5453,"v":-190000},{"s":"V_C_kV__Linea1_7","t":42.5553,"v":190000},{"s":"V_C_kV__Linea1_7","t":42.5653,"v":-190000},{"s":"V_C_kV__Linea1_7","t":42.5753,"v":190000},{"s":"V_C_kV__Linea1_7","t":42.5853,"v":-190000},{"s":"V_C_kV__Linea1_7","t":42.5953,"v":190000},{"s":"V_C_kV__Linea1_7","t":42.6053,"v":-190000},{"s":"V_C_kV__Linea1_7","t":42.6153,"v":190000},{"s":"V_C_kV__Linea1_7","t":42.6253,"v":-190000},{"s":"V_C_kV__Linea1_7","t":42.6353,"v":190000},{"s":"V_C_kV__Linea1_7","t":42.6453,"v":-190000},{"s":"V_C_kV__Linea1_7","t":42.6553,"v":190000},{"s":"V_C_kV__Linea1_7","t":42.6653,"v":-190000},{"s":"V_C_kV__Linea1_7","t":42.6753,"v":190000},{"s":"V_C_kV__Linea1_7","t":42.6853,"v":-190000},{"s":"V_C_kV__Linea1_7","t":42.6953,"v":190000},{"s":"V_C_kV__Linea1_7","t":42.7053,"v":-190000},{"s":"V_C_kV__Linea1_7","t":42.7153,"v":190000},{"s":"V_C_kV__Linea1_7","t":42.7253,"v":-190000},{"s":"V_C_kV__Linea1_7","t":42.7353,"v":190000},{"s":"V_C_kV__Linea1_7","t":42.7453,"v":-190000},{"s":"V_C_kV__Linea1_7","t":42.7553,"v":190000},{"s":"V_C_kV__Linea1_7","t":42.7653,"v":-190000},{"s":"V_C_kV__Linea1_7","t":42.7753,"v":190000},{"s":"V_C_kV__Linea1_7","t":42.7853,"v":-190000},{"s":"V_C_kV__Linea1_7","t":42.7953,"v":190000},{"s":"V_C_kV__Linea1_7","t":42.8053,"v":-190000},{"s":"V_C_kV__Linea1_7","t":42.8153,"v":190000},{"s":"V_C_kV__Linea1_7","t":42.8253,"v":-190000},{"s":"V_C_kV__Linea1_7","t":42.8353,"v":190000},{"s":"V_C_kV__Linea1_7","t":42.8453,"v":-190000},{"s":"V_C_kV__Linea1_7","t":42.8553,"v":190000},{"s":"V_C_kV__Linea1_7","t":42.8653,"v":-190000},
{"s":"V_C_kV__Linea1_7","t":42.8753,"v":150000},{"s":"V_C_kV__Linea1_7","t":42.8845,"v":-175000},{"s":"V_C_kV__Linea1_7","t":42.8954,"v":193000},{"s":"V_C_kV__Linea1_7","t":42.9054,"v":-164000},{"s":"V_C_kV__Linea1_7","t":42.9164,"v":182000},{"s":"V_C_kV__Linea1_7","t":42.9267,"v":-181000},{"s":"V_C_kV__Linea1_7","t":42.9300,"v":-30000},{"s":"V_C_kV__Linea1_7","t":42.9320,"v":45000},{"s":"V_C_kV__Linea1_7","t":42.9340,"v":30000},{"s":"V_C_kV__Linea1_7","t":42.9360,"v":70000},{"s":"V_C_kV__Linea1_7","t":42.9385,"v":94000},{"s":"V_C_kV__Linea1_7","t":42.9410,"v":75000},{"s":"V_C_kV__Linea1_7","t":42.9438,"v":0},{"s":"V_C_kV__Linea1_7","t":42.9510,"v":-76000},{"s":"V_C_kV__Linea1_7","t":42.9626,"v":72000},{"s":"V_C_kV__Linea1_7","t":42.9690,"v":-20000},{"s":"V_C_kV__Linea1_7","t":42.9719,"v":-49000},{"s":"V_C_kV__Linea1_7","t":42.9954,"v":-49000},{"s":"V_C_kV__Linea1_7","t":43.0047,"v":0},{"s":"V_C_kV__Linea1_7","t":43.0235,"v":28000},{"s":"V_C_kV__Linea1_7","t":43.0703,"v":24000},{"s":"V_C_kV__Linea1_7","t":43.0909,"v":0},{"s":"V_C_kV__Linea1_7","t":43.1171,"v":-7000},{"s":"V_C_kV__Linea1_7","t":43.3000,"v":-5000},{"s":"V_C_kV__Linea1_7","t":43.5300,"v":-3000}
]
},
"vconcat":[
{
 "width":1150,"height":135,
 "resolve":{"scale":{"x":"independent"},"axis":{"x":"independent"}},
 "layer":[
  {"layer":[
   {"data":{"name":"i4"},"mark":{"type":"line","interpolate":"monotone","strokeWidth":2,"clip":true},
    "encoding":{
     "x":{"field":"t","type":"quantitative","scale":{"domain":[42.4445,43.5222],"nice":false,"zero":false},"axis":{"values":[42.6,42.8,43,43.2,43.4],"format":"~g","labelExpr":"datum.label + ' s'","grid":true,"title":null,"labelPadding":6}},
     "y":{"field":"v","type":"quantitative","scale":{"domain":[-300,300],"nice":false},"axis":{"values":[-200,-100,0,100,200],"labelExpr":"datum.value % 200 == 0 ? datum.label : ''","grid":true,"title":"A","titleX":-47,"labelPadding":10}},
     "color":{"field":"s","type":"nominal","scale":{"domain":["I_A_kA__J4_1","I_B_kA__J4_2","I_C_kA__J4_3","I_N_kA__J4_4"],"range":["#e8383d","#34a853","#1a6dff","#f5cf00"]},
      "legend":{"orient":"none","legendX":1056,"legendY":13,"title":null,"symbolType":"square","symbolSize":16,"symbolStrokeWidth":4,"clipHeight":11,"padding":7,"rowPadding":6,"labelOffset":8,"strokeColor":"#d6d6d6","fillColor":"white","labelFontSize":10.5,"labelColor":"#555555"}}
    }},
   {"data":{"name":"cur"},"transform":[{"filter":"datum.c == 'fault'"}],"mark":{"type":"rule","color":"#e47b0c","strokeWidth":2.5},"encoding":{"x":{"field":"t","type":"quantitative"}}},
   {"data":{"name":"cur"},"transform":[{"filter":"datum.c == 'trip'"}],"mark":{"type":"rule","color":"#ff2a2a","strokeWidth":2,"strokeDash":[7,5]},"encoding":{"x":{"field":"t","type":"quantitative"}}},
   {"data":{"name":"cur"},"transform":[{"filter":"datum.c == 'open'"}],"mark":{"type":"rule","color":"#ff1aff","strokeWidth":3},"encoding":{"x":{"field":"t","type":"quantitative"}}},
   {"data":{"name":"tref"},"mark":{"type":"point","opacity":0},"encoding":{"shape":{"field":"r","type":"nominal","legend":{"orient":"bottom-left","offset":3,"title":null,"padding":3,"clipHeight":12,"strokeColor":"#cccccc","fillColor":"white","symbolSize":0,"symbolStrokeWidth":0,"symbolOpacity":0,"labelOffset":0,"labelFontSize":10,"labelColor":"#444444"}}}}
  ]},
  {"data":{"name":"cur"},"mark":{"type":"rule","opacity":0},"encoding":{"x":{"field":"t","type":"quantitative","scale":{"domain":[42.4445,43.5222],"range":[-58,1165],"nice":false,"zero":false},"axis":{"orient":"bottom","offset":20,"labels":false,"grid":false,"ticks":false,"domain":true,"domainColor":"#dcdcdc","domainWidth":4,"title":null}}}}
 ]
},
{
 "width":1150,"height":134,
 "resolve":{"scale":{"x":"independent"},"axis":{"x":"independent"}},
 "layer":[
  {"layer":[
   {"data":{"name":"i5"},"mark":{"type":"line","interpolate":"monotone","strokeWidth":2,"clip":true},
    "encoding":{
     "x":{"field":"t","type":"quantitative","scale":{"domain":[42.4445,43.5222],"nice":false,"zero":false},"axis":{"values":[42.6,42.8,43,43.2,43.4],"format":"~g","labelExpr":"datum.label + ' s'","grid":true,"title":null,"labelPadding":6}},
     "y":{"field":"v","type":"quantitative","scale":{"domain":[-160,160],"nice":false},"axis":{"values":[-150,-100,-50,0,50,100,150],"grid":true,"title":"A","titleX":-47,"labelPadding":10}},
     "color":{"field":"s","type":"nominal","scale":{"domain":["I_A_kA__J5_1","I_B_kA__J5_2","I_C_kA__J5_3","I_N_kA__J5_4"],"range":["#e8383d","#34a853","#1a6dff","#f5cf00"]},
      "legend":{"orient":"none","legendX":1056,"legendY":11,"title":null,"symbolType":"square","symbolSize":16,"symbolStrokeWidth":4,"clipHeight":11,"padding":7,"rowPadding":6,"labelOffset":8,"strokeColor":"#d6d6d6","fillColor":"white","labelFontSize":10.5,"labelColor":"#555555"}}
    }},
   {"data":{"name":"cur"},"transform":[{"filter":"datum.c == 'fault'"}],"mark":{"type":"rule","color":"#e47b0c","strokeWidth":2.5},"encoding":{"x":{"field":"t","type":"quantitative"}}},
   {"data":{"name":"cur"},"transform":[{"filter":"datum.c == 'trip'"}],"mark":{"type":"rule","color":"#ff2a2a","strokeWidth":2,"strokeDash":[7,5]},"encoding":{"x":{"field":"t","type":"quantitative"}}},
   {"data":{"name":"cur"},"transform":[{"filter":"datum.c == 'open'"}],"mark":{"type":"rule","color":"#ff1aff","strokeWidth":3},"encoding":{"x":{"field":"t","type":"quantitative"}}},
   {"data":{"name":"tref"},"mark":{"type":"point","opacity":0},"encoding":{"shape":{"field":"r","type":"nominal","legend":{"orient":"bottom-left","offset":3,"title":null,"padding":3,"clipHeight":12,"strokeColor":"#cccccc","fillColor":"white","symbolSize":0,"symbolStrokeWidth":0,"symbolOpacity":0,"labelOffset":0,"labelFontSize":10,"labelColor":"#444444"}}}}
  ]},
  {"data":{"name":"cur"},"mark":{"type":"rule","opacity":0},"encoding":{"x":{"field":"t","type":"quantitative","scale":{"domain":[42.4445,43.5222],"range":[-58,1165],"nice":false,"zero":false},"axis":{"orient":"bottom","offset":20,"labels":false,"grid":false,"ticks":false,"domain":true,"domainColor":"#dcdcdc","domainWidth":4,"title":null}}}}
 ]
},
{
 "width":1150,"height":153,
 "resolve":{"scale":{"x":"independent"},"axis":{"x":"independent"}},
 "layer":[
  {"layer":[
   {"data":{"name":"v"},"mark":{"type":"line","interpolate":"monotone","strokeWidth":2,"clip":true},
    "encoding":{
     "x":{"field":"t","type":"quantitative","scale":{"domain":[42.4445,43.5222],"nice":false,"zero":false},"axis":{"values":[42.6,42.8,43,43.2,43.4],"format":"~g","labelExpr":"datum.label + ' s'","grid":true,"title":null,"labelPadding":6}},
     "y":{"field":"v","type":"quantitative","scale":{"domain":[-252000,252000],"nice":false},"axis":{"values":[-200000,-100000,0,100000,200000],"format":"d","grid":true,"title":"V","titleX":-47,"labelPadding":3}},
     "color":{"field":"s","type":"nominal","scale":{"domain":["V_A_kV__Linea1_5","V_B_kV__Linea1_6","V_C_kV__Linea1_7"],"range":["#e8383d","#34a853","#1a6dff"]},
      "legend":{"orient":"none","legendX":1033,"legendY":12,"title":null,"symbolType":"square","symbolSize":16,"symbolStrokeWidth":4,"clipHeight":11,"padding":7,"rowPadding":6,"labelOffset":8,"strokeColor":"#d6d6d6","fillColor":"white","labelFontSize":10.5,"labelColor":"#555555"}}
    }},
   {"data":{"name":"cur"},"transform":[{"filter":"datum.c == 'fault'"}],"mark":{"type":"rule","color":"#e47b0c","strokeWidth":2.5},"encoding":{"x":{"field":"t","type":"quantitative"}}},
   {"data":{"name":"cur"},"transform":[{"filter":"datum.c == 'trip'"}],"mark":{"type":"rule","color":"#ff2a2a","strokeWidth":2,"strokeDash":[7,5]},"encoding":{"x":{"field":"t","type":"quantitative"}}},
   {"data":{"name":"cur"},"transform":[{"filter":"datum.c == 'open'"}],"mark":{"type":"rule","color":"#ff1aff","strokeWidth":3},"encoding":{"x":{"field":"t","type":"quantitative"}}},
   {"data":{"name":"tref"},"mark":{"type":"point","opacity":0},"encoding":{"shape":{"field":"r","type":"nominal","legend":{"orient":"bottom-left","offset":3,"title":null,"padding":3,"clipHeight":12,"strokeColor":"#cccccc","fillColor":"white","symbolSize":0,"symbolStrokeWidth":0,"symbolOpacity":0,"labelOffset":0,"labelFontSize":10,"labelColor":"#444444"}}}}
  ]},
  {"data":{"name":"cur"},"mark":{"type":"rule","opacity":0},"encoding":{"x":{"field":"t","type":"quantitative","scale":{"domain":[42.4445,43.5222],"range":[-58,1165],"nice":false,"zero":false},"axis":{"orient":"bottom","offset":20,"labels":false,"grid":false,"ticks":false,"domain":true,"domainColor":"#dcdcdc","domainWidth":4,"title":null}}}}
 ]
},
{
 "hconcat":[
  {"width":24,"height":235,"view":{"stroke":null},"data":{"name":"tref"},"mark":{"type":"text","opacity":0},"encoding":{"text":{"field":"r"}}},
  {
   "width":1128,"height":235,
   "title":{"text":"◂","anchor":"start","frame":"group","fontSize":9,"color":"#333333","offset":2,"dx":5},
   "layer":[
    {"data":{"name":"dig"},"mark":{"type":"rule","color":"#4a5cff","strokeWidth":2},
     "encoding":{"y":{"field":"s","type":"nominal","sort":null,"scale":{"type":"point","padding":1,"domain":["85A_Rcv","85A_Snd","85A_Trp","52_AB_J4","52_CE_J4","52_AB_A_J5","52_AB_B_J5","52_AB_C_J5","85A_Snd_ECHC","85A_Trp_ECHO"]},"axis":{"title":null,"grid":false,"labelPadding":10,"labelLimit":200,"labelFontSize":10}}}},
    {"data":{"name":"dig"},"mark":{"type":"rule","color":"#4a5cff","strokeWidth":11,"clip":true},
     "encoding":{
      "x":{"field":"a","type":"quantitative","scale":{"domain":[42.4445,43.5222],"nice":false,"zero":false},"axis":{"values":[42.6,42.8,43,43.2,43.4],"format":"~g","labelExpr":"datum.label + ' s'","grid":true,"title":null,"labelPadding":6}},
      "x2":{"field":"b"},
      "y":{"field":"s","type":"nominal","sort":null}
     }},
    {"data":{"name":"cur"},"transform":[{"filter":"datum.c == 'fault'"}],"mark":{"type":"rule","color":"#e47b0c","strokeWidth":2.5},"encoding":{"x":{"field":"t","type":"quantitative"}}},
    {"data":{"name":"cur"},"transform":[{"filter":"datum.c == 'trip'"}],"mark":{"type":"rule","color":"#ff2a2a","strokeWidth":2,"strokeDash":[7,5]},"encoding":{"x":{"field":"t","type":"quantitative"}}},
    {"data":{"name":"cur"},"transform":[{"filter":"datum.c == 'open'"}],"mark":{"type":"rule","color":"#ff1aff","strokeWidth":3},"encoding":{"x":{"field":"t","type":"quantitative"}}},
    {"data":{"name":"tref"},"mark":{"type":"point","opacity":0},"encoding":{"shape":{"field":"r","type":"nominal","legend":{"orient":"bottom-left","offset":3,"title":null,"padding":3,"clipHeight":12,"strokeColor":"#cccccc","fillColor":"white","symbolSize":0,"symbolStrokeWidth":0,"symbolOpacity":0,"labelOffset":0,"labelFontSize":10,"labelColor":"#444444"}}}}
   ]
  }
 ],
 "spacing":0,
 "bounds":"flush",
 "resolve":{"scale":{"shape":"independent"},"legend":{"shape":"independent"}}
}
]
}
